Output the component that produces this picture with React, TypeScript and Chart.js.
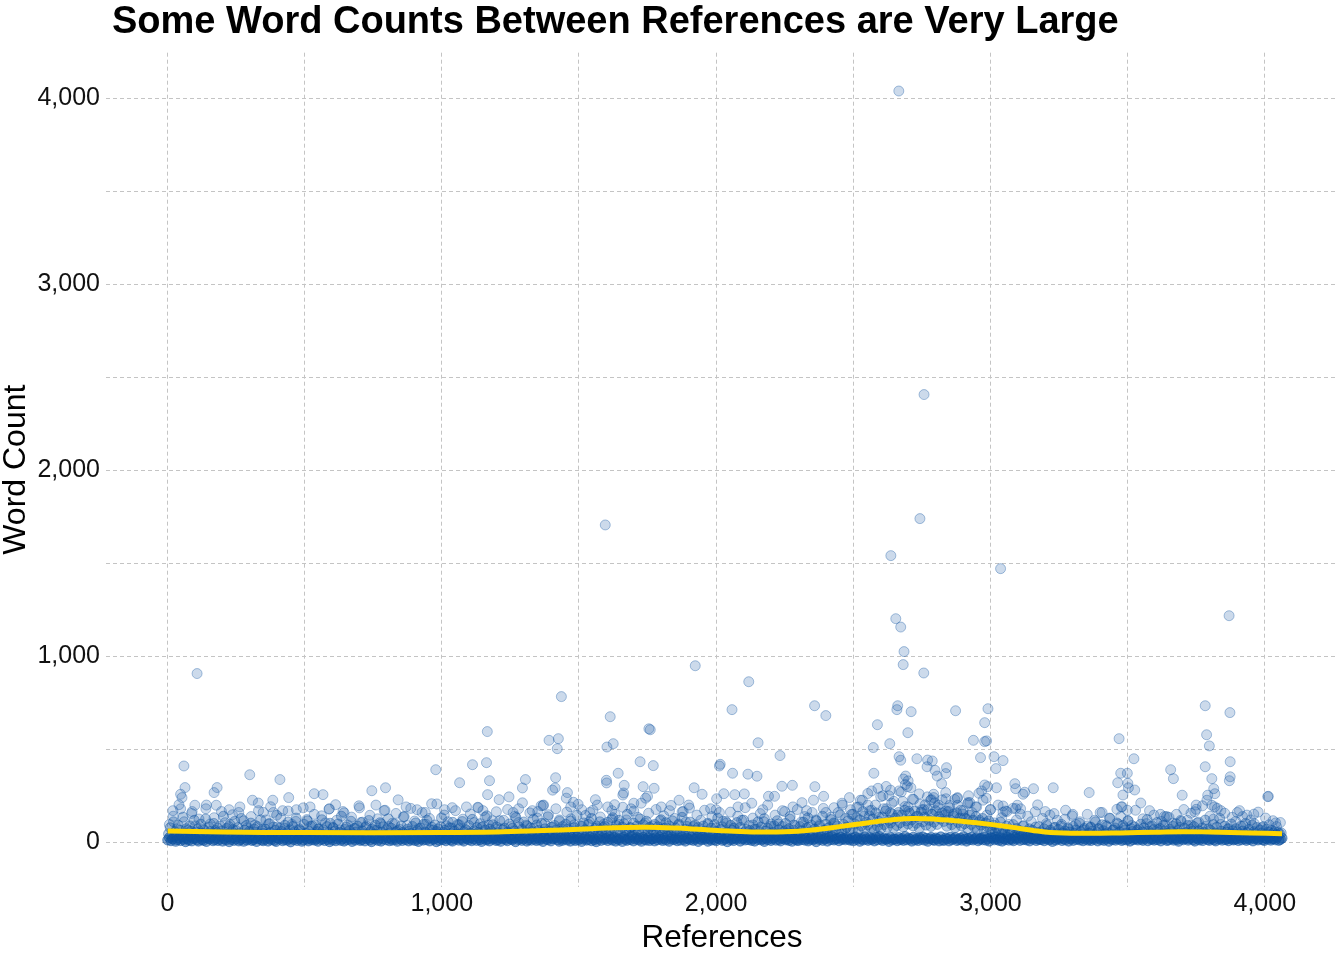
import React, { useEffect, useRef } from "react";
import { Chart, registerables } from "chart.js";

Chart.register(...registerables);

const TITLE = "Some Word Counts Between References are Very Large";
const X_TITLE = "References";
const Y_TITLE = "Word Count";

const LAST_REF = 4063;

// Dense lower band of word counts (references spread evenly along the axis)
const baseCounts = [
  12,25,8,18,30,5,14,22,9,27,16,3,20,11,28,7,19,24,13,6,31,15,10,26,4,21,17,29,8,14,
  23,9,16,32,6,19,12,27,3,15,24,10,18,30,7,13,21,5,26,11,17,28,9,14,22,4,19,33,12,8,
  16,27,6,20,13,29,10,4,23,17,31,8,15,25,11,19,2,22,14,28,9,18,26,5,12,30,16,7,21,13,
  24,11,18,5,29,14,20,9,26,15,3,22,12,32,8,17,27,10,19,6,23,13,28,16,4,21,11,25,18,9,
  14,30,7,19,25,12,3,22,16,28,10,21,6,17,33,13,24,8,20,11,26,15,5,29,18,9,23,14,31,7,
  20,12,27,9,16,4,24,18,11,30,13,22,7,26,15,19,3,28,10,21,14,32,8,17,25,12,6,23,16,29,
  11,22,15,6,28,19,13,25,8,17,31,10,24,14,4,20,27,12,18,7,29,16,22,9,13,26,5,19,24,15,
  8,26,17,13,21,3,29,15,22,10,18,27,6,14,23,11,30,16,9,25,12,20,4,28,17,13,24,7,19,21,
  27,14,5,23,10,18,32,12,20,6,25,16,9,29,13,21,4,17,26,11,15,28,8,22,14,3,19,30,10,24,
  15,21,9,30,17,11,26,6,19,13,23,4,28,16,10,22,14,31,7,18,25,12,20,5,27,15,11,24,9,18,
  19,7,24,13,28,16,9,21,12,33,5,17,26,14,20,8,23,11,29,15,6,22,18,13,27,10,16,25,4,20,
  13,28,16,22,5,19,11,27,14,8,24,18,30,10,15,21,3,26,13,19,9,23,16,28,6,17,22,12,31,14,
  22,10,19,6,25,15,29,12,18,4,21,14,27,9,17,24,11,32,15,7,20,26,13,18,10,29,5,22,16,11,
  9,24,14,31,11,20,7,16,26,13,19,3,23,15,28,10,18,22,6,25,14,30,12,17,21,8,27,15,20,13,
  26,16,11,21,8,28,15,23,5,18,12,29,17,10,24,14,20,7,27,13,31,16,9,22,15,19,4,25,12,18,
  17,8,25,14,20,10,31,13,22,16,6,27,12,19,9,24,15,28,11,21,5,18,26,14,10,23,17,7,29,12,
  10,23,18,7,27,13,19,25,9,15,22,11,30,17,6,20,14,26,12,18,24,8,16,21,13,28,11,19,6,25,
  21,13,29,16,10,24,6,18,14,27,11,20,15,8,26,17,23,10,31,14,19,12,25,7,22,16,28,9,18,15,
  14,27,8,19,23,12,17,4,28,11,21,16,25,9,19,13,29,6,18,22,10,27,15,20,12,24,8,17,26,11,
  18,9,22,15,30,7,21,13,26,10,17,24,5,19,14,28,11,20,16,23,9,15,29,12,18,6,25,14,21,17,
  12,25,16,10,20,29,8,23,15,18,11,27,14,21,7,24,16,30,9,13,26,18,11,22,15,5,20,28,13,19,
  23,11,19,27,14,6,25,17,12,22,9,20,28,15,10,18,24,13,7,29,16,21,11,26,14,19,8,23,17,12,
  16,20,9,24,13,28,18,10,21,15,26,7,19,23,12,17,30,14,9,22,16,25,11,18,20,13,27,10,15,22,
];

// Middle band of word counts (references interleaved with the lower band)
const midCounts = [
  45,78,32,110,56,38,92,64,41,135,50,73,36,88,60,42,118,55,70,34,97,48,66,125,39,82,58,44,101,63,
  52,36,87,61,140,43,74,30,95,57,68,112,40,79,49,128,35,65,90,46,58,103,38,71,54,84,33,120,62,47,
  70,41,99,53,35,82,64,145,44,76,58,37,91,50,108,67,39,85,56,130,43,72,61,34,96,48,115,59,40,88,
  38,93,57,72,44,121,66,35,84,51,102,42,77,60,36,98,53,140,47,69,81,39,62,113,45,74,55,87,33,106,
  61,46,80,37,117,58,71,43,92,65,34,105,54,83,40,68,126,49,75,36,99,57,63,44,88,52,138,41,70,59,
  47,85,39,104,62,50,76,33,97,55,118,45,67,81,38,93,58,72,42,131,53,64,89,36,78,49,107,60,43,95,
  73,40,111,56,68,35,90,48,123,62,44,79,53,100,37,86,65,142,46,71,58,94,39,82,51,116,43,67,76,35,
  54,98,42,75,61,133,47,83,36,69,109,52,88,40,77,57,124,45,93,63,38,101,55,72,46,137,59,80,41,90,
  66,49,120,58,84,43,97,71,39,114,55,78,62,145,48,89,53,104,67,41,95,60,128,50,74,86,44,110,63,79,
  85,52,107,64,45,132,70,91,56,118,48,81,99,61,150,54,76,42,103,68,87,57,125,46,94,65,113,51,80,72,
  58,96,47,83,67,121,44,74,105,52,88,39,115,61,77,49,98,56,134,43,70,85,50,108,62,41,92,66,79,45,
  41,87,60,36,102,53,76,44,95,58,130,40,69,83,47,112,55,38,91,64,74,35,106,51,80,43,119,57,68,39,
  63,45,93,71,38,110,56,82,42,127,60,75,36,98,52,88,44,116,67,40,85,58,101,47,72,139,50,65,90,43,
  49,84,62,108,46,77,131,55,92,41,70,115,58,86,48,140,63,97,53,79,122,45,104,66,88,57,147,60,95,71,
  82,115,66,150,74,98,132,61,120,88,165,70,108,93,142,78,125,64,158,86,112,72,136,95,168,80,118,104,152,76,
  130,90,160,105,145,82,172,115,98,155,120,88,168,102,140,75,162,110,135,92,175,118,85,150,108,170,96,138,125,158,
  112,148,86,165,120,95,142,78,158,106,130,88,152,100,126,72,145,96,118,80,138,68,110,92,128,62,104,84,115,70,
  58,92,48,76,60,108,44,70,54,86,40,66,52,95,38,74,50,62,42,88,46,58,36,72,48,64,40,82,52,44,
  56,38,72,47,90,41,64,52,35,80,46,68,39,96,50,61,43,77,55,34,85,49,66,40,102,57,45,74,37,88,
  48,79,59,42,110,53,71,36,94,62,45,85,51,128,40,67,77,46,99,56,38,90,63,49,116,44,73,58,83,41,
  65,43,97,55,78,39,122,60,47,88,68,35,106,52,74,44,92,61,138,48,70,57,85,40,99,63,50,112,45,76,
  52,90,41,69,58,84,37,104,62,48,77,55,119,43,72,66,35,95,50,81,46,128,59,38,87,54,70,42,98,61,
  44,73,56,38,86,60,47,101,53,68,40,92,57,45,79,36,65,50,84,42,71,55,39,63,48,58,41,52,46,50,
];

// Upper, sparser band of word counts
const upperCounts = [
  95,140,72,180,110,65,155,88,125,70,200,98,132,76,165,105,84,148,62,190,115,78,138,92,170,68,120,100,160,82,
  130,75,168,96,112,64,185,122,86,150,70,142,104,178,80,118,66,158,93,135,74,196,108,88,145,63,126,99,172,84,
  102,155,69,136,90,182,114,73,160,97,128,66,206,84,146,110,76,170,94,124,62,152,106,188,80,134,92,116,164,71,
  118,176,84,140,106,212,92,158,74,130,196,100,148,82,180,112,68,162,126,94,204,86,144,110,172,78,136,98,190,122,
  150,96,188,120,80,168,134,210,102,156,88,176,116,142,74,198,128,92,164,108,184,84,146,118,172,96,138,76,160,112,
  104,162,78,140,118,186,90,130,70,154,110,200,86,146,98,170,66,124,92,176,108,138,80,160,120,94,182,74,134,100,
  160,210,128,240,150,188,226,140,262,172,200,134,250,180,158,220,146,270,192,166,232,138,204,176,244,152,212,186,228,168,
  198,150,236,172,130,214,160,190,118,226,146,176,104,200,132,168,96,182,120,152,88,140,110,164,84,128,100,146,78,118,
  86,124,70,142,96,110,66,150,82,118,74,160,92,130,64,104,138,78,116,90,172,72,126,100,84,146,68,112,94,134,
  102,150,80,176,118,92,164,108,196,86,140,124,182,96,156,74,134,112,170,88,146,120,100,162,78,130,94,116,84,106,
];

// Individually read points above the band: [reference, word count]
const sparsePoints = [
  [108,907],[60,410],[300,363],[410,337],[64,294],[181,294],[170,267],[48,258],[53,240],[42,202],
  [100,199],[178,199],[310,226],[331,211],[384,226],[376,191],[442,240],[349,161],[1166,595],[978,390],
  [1112,417],[1163,428],[1174,331],[1065,320],[1167,256],[1209,229],[535,261],[567,256],[745,277],[795,293],
  [613,202],[841,228],[963,207],[1038,186],[1133,186],[20,170],[90,165],[140,180],[225,175],[260,160],
  [420,170],[470,175],[520,190],[590,180],[640,165],[700,185],[760,200],[790,170],[870,190],[910,175],
  [940,160],[1010,175],[1090,190],[1150,170],
  [1924,949],[2119,863],[1436,783],[1614,675],[2058,713],[2359,734],[2400,681],[1760,605],[1755,610],[2588,632],
  [1391,548],[1425,557],[1421,503],[1602,512],[1625,530],[2153,535],[2573,509],[2633,530],[2233,466],[2012,410],
  [2015,419],[1723,433],[1771,412],[2575,371],[1643,371],[2060,371],[2116,366],[2149,355],[1415,347],[1305,337],
  [1600,333],[1601,319],[1294,292],[1404,280],[1413,292],[1458,267],[1454,237],[1665,306],[1734,299],[1774,290],
  [1920,293],[2240,301],[2278,306],[2360,299],[2636,280],[2567,276],[1245,244],[1949,258],[2028,261],[2068,256],
  [2103,260],[2191,247],[2213,247],[2313,213],[2392,247],[2355,226],[1369,197],[1371,200],[1560,229],[1567,200],
  [1630,202],[1660,254],[1663,265],[1743,237],[1750,247],[1865,226],[2002,234],[2430,186],[2533,226],[2553,200],
  [2600,245],[1596,1706],[1280,180],[1330,170],[1470,190],[1510,175],[1540,160],[1690,180],[1700,210],[1800,190],
  [1830,170],[1900,200],[1980,180],[2080,190],[2130,210],[2170,175],[2280,190],[2330,170],[2460,200],[2490,175],
  [2520,190],[2560,170],[1260,160],[1350,165],[1480,215],[1620,170],[1880,165],[2000,175],[2250,165],[2400,160],
  [2666,4039],[2758,2407],[2743,1740],[2637,1541],[3037,1471],[2655,1202],[2673,1157],[2685,1025],[2682,955],[2757,910],
  [2662,734],[2659,713],[2711,702],[2873,707],[2991,718],[2979,643],[2699,589],[2938,548],[2979,541],[2986,545],
  [2964,455],[3013,460],[3046,439],[3020,396],[2667,460],[2673,441],[2732,449],[2771,442],[2788,437],[2769,406],
  [2798,387],[2806,356],[2840,401],[2837,369],[2691,356],[2683,340],[2710,293],[2697,299],[2822,315],[2837,267],
  [2838,234],[2793,258],[2782,226],[2667,276],[2979,308],[2990,299],[3022,293],[2958,263],[2968,276],[2985,237],
  [3089,315],[3092,288],[3119,258],[3125,269],[3157,288],[3229,293],[3360,267],[2880,199],[2917,208],[2925,213],
  [2762,201],[2785,229],[2793,240],[3172,201],[3232,154],[3274,172],
  [3469,557],[3523,449],[3475,371],[3499,371],[3464,320],[3501,317],[3503,293],[3526,281],[3483,254],[3548,211],
  [3477,190],[3499,172],[3657,390],[3667,342],[3699,253],[3870,1218],[3783,734],[3873,697],[3788,578],[3798,518],
  [3783,406],[3874,433],[3807,342],[3874,352],[3871,331],[3814,288],[3818,261],[3792,253],[3789,226],[3807,199],
  [3817,190],[3731,156],[3750,177],[4011,245],[4013,247],[3919,138],[3960,151],[3461,177],[3480,191],[3634,138],
  [3694,118],[3098,199],[3092,181],[3046,195],[3046,161],
  [2610,180],[2640,210],[2700,190],[2720,230],[2750,175],[2810,200],[2850,185],[2870,230],[2900,170],[2950,190],
  [3000,175],[3060,165],[3110,180],[3200,165],[3300,150],[3400,160],[3580,170],[3620,150],[3750,200],[3840,170],
  [3900,160],[4040,104],[2630,250],[2680,220],[2740,260],[2690,310],[2700,330],[2590,290],[2620,300],[2880,240],
  [2920,250],
];

// Smoothed trend
const trendRefs = [1,200,500,1000,1200,1370,1500,1600,1750,1850,1950,2050,2150,2250,2350,2450,2550,2650,2720,2800,2900,3000,3080,3150,3220,3350,3475,3600,3700,3800,3950,4063];
const trendCounts = [60,55,52,52,55,63,70,77,80,76,68,60,55,56,66,84,104,122,128,124,112,96,80,65,52,48,50,54,57,55,50,46];

const gridTicks = [0,500,1000,1500,2000,2500,3000,3500,4000];
const labelledTicks = [0,1000,2000,3000,4000];

const BLUE = "13,82,160";
const FONT = '"Liberation Sans", Arial, sans-serif';

function spread(values: number[], first: number, last: number) {
  const n = values.length;
  return values.map((v, i) => ({ x: first + Math.round((i * (last - first)) / (n - 1)), y: v }));
}

export default function App() {
  const canvasRef = useRef<HTMLCanvasElement | null>(null);

  useEffect(() => {
    const canvas = canvasRef.current;
    if (!canvas) return;

    const titlePlugin = {
      id: "panelTitle",
      afterDraw(chart: any) {
        const ctx = chart.ctx;
        ctx.save();
        ctx.font = `bold 38px ${FONT}`;
        ctx.fillStyle = "#000";
        ctx.textAlign = "left";
        ctx.textBaseline = "alphabetic";
        ctx.fillText(TITLE, chart.chartArea.left + 6, 32.5);
        ctx.restore();
      },
    };

    const tickLabel = (value: any) =>
      labelledTicks.includes(Number(value)) ? Number(value).toLocaleString("en-US") : "";

    const pointStyle = (fillA: number, borderA: number) => ({
      type: "scatter" as const,
      showLine: false,
      pointRadius: 5,
      pointHoverRadius: 5,
      pointBorderWidth: 1,
      pointBackgroundColor: `rgba(${BLUE},${fillA})`,
      pointBorderColor: `rgba(${BLUE},${borderA})`,
      order: 1,
    });

    const chart = new Chart(canvas, {
      type: "scatter",
      data: {
        datasets: [
          {
            type: "line",
            data: trendRefs.map((x, i) => ({ x, y: trendCounts[i] })),
            borderColor: "#FFD700",
            borderWidth: 5,
            pointRadius: 0,
            tension: 0.4,
            fill: false,
            order: 0,
          } as any,
          { ...pointStyle(0.21, 0.35), data: sparsePoints.map(([x, y]) => ({ x, y })) },
          { ...pointStyle(0.21, 0.35), data: spread(upperCounts, 7, LAST_REF - 6) },
          { ...pointStyle(0.3, 0.4), data: spread(midCounts, 4, LAST_REF - 3) },
          { ...pointStyle(0.5, 0.55), data: spread(baseCounts, 1, LAST_REF) },
        ],
      },
      options: {
        animation: false,
        responsive: false,
        maintainAspectRatio: false,
        layout: { padding: { top: 52.7, right: 4, left: 0, bottom: 0 } },
        plugins: {
          legend: { display: false },
          tooltip: { enabled: false },
          title: { display: false },
        },
        scales: {
          x: {
            type: "linear",
            min: -224,
            max: 4267,
            afterFit: (s: any) => {
              s.height = 73.3;
            },
            afterBuildTicks: (s: any) => {
              s.ticks = gridTicks.map((v) => ({ value: v }));
            },
            grid: { color: "#c4c4c4", lineWidth: 1, drawTicks: false },
            border: { display: false, dash: [4, 3] },
            ticks: {
              callback: tickLabel,
              color: "#111",
              padding: 2,
              autoSkip: false,
              maxRotation: 0,
              font: { family: FONT, size: 25, lineHeight: 1.2 },
            },
            title: {
              display: true,
              text: X_TITLE,
              color: "#000",
              padding: { top: 0, bottom: 5.5 },
              font: { family: FONT, size: 31.5, lineHeight: 1 },
            },
          },
          y: {
            type: "linear",
            min: -239,
            max: 4245,
            afterFit: (s: any) => {
              s.width = 106;
            },
            afterBuildTicks: (s: any) => {
              s.ticks = gridTicks.map((v) => ({ value: v }));
            },
            grid: { color: "#c4c4c4", lineWidth: 1, drawTicks: false },
            border: { display: false, dash: [4, 3] },
            ticks: {
              callback: tickLabel,
              color: "#111",
              padding: 6,
              autoSkip: false,
              font: { family: FONT, size: 25, lineHeight: 1.2 },
            },
            title: {
              display: true,
              text: Y_TITLE,
              color: "#000",
              padding: { top: 0, bottom: 0 },
              font: { family: FONT, size: 32, lineHeight: 1 },
            },
          },
        },
      } as any,
      plugins: [titlePlugin],
    });

    return () => chart.destroy();
  }, []);

  return (
    <div style={{ position: "fixed", left: 0, top: 0, width: 1344, height: 960, background: "#fff" }}>
      <canvas ref={canvasRef} width={1344} height={960} style={{ display: "block", width: 1344, height: 960 }} />
    </div>
  );
}
